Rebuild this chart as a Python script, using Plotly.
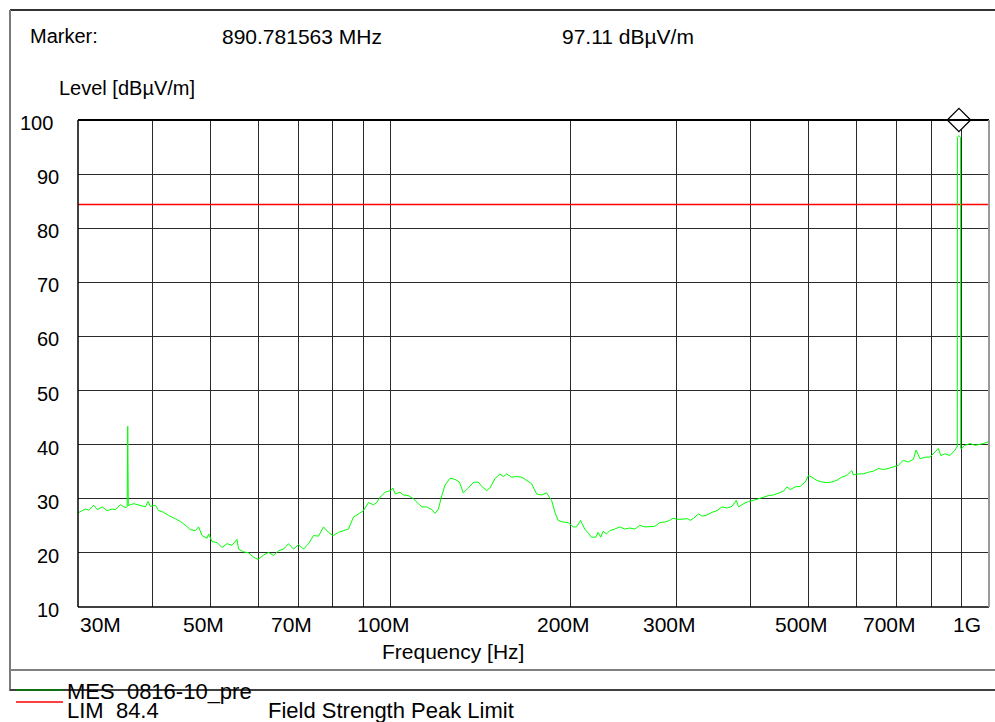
import math
import plotly.graph_objects as go

# ---------------- data ----------------
seg1_mhz = [30.0, 30.09, 30.49, 30.88, 31.27, 31.88, 32.30, 32.93, 33.56, 34.21,
            34.65, 35.32, 35.78, 36.15, 36.25, 36.33, 36.41, 36.47, 37.18, 37.67,
            38.40, 38.89, 39.29, 39.64, 40.41, 40.93, 41.72, 42.53, 43.64, 44.49,
            45.35, 46.23, 47.13, 47.73, 48.36, 49.30, 49.60, 50.25, 51.23, 52.22,
            53.24, 54.27, 55.32, 55.67, 56.75, 57.85, 58.97, 60.0, 61.28, 62.47,
            63.68, 64.92, 66.18, 67.46, 68.77, 70.1, 71.47, 72.85, 74.27, 75.71,
            77.18, 78.67, 80.1, 81.75, 83.34, 84.96, 86.61, 88.29, 90.0, 91.75,
            93.53, 94.76, 95.97, 97.83, 99.8]
seg1_level = [27.4, 27.5, 27.8, 28.1, 27.9, 28.8, 28.0, 28.5, 27.8, 28.1,
              28.0, 28.9, 28.5, 28.4, 28.6, 43.4, 28.7, 28.8, 29.1, 28.9,
              28.6, 28.5, 29.5, 28.6, 28.8, 27.8, 27.5, 26.9, 26.3, 25.8,
              25.1, 24.3, 24.1, 24.8, 23.2, 22.7, 23.5, 22.1, 21.9, 21.0,
              21.7, 21.4, 22.5, 20.7, 20.2, 20.0, 19.2, 18.8, 19.6, 20.1,
              19.5, 20.4, 20.7, 21.7, 20.7, 21.5, 20.7, 21.7, 23.2, 23.1,
              24.8, 23.8, 23.2, 23.8, 24.1, 24.4, 26.6, 27.2, 27.8, 29.3,
              28.9, 29.3, 30.3, 31.2, 31.5]

seg2_mhz = [100.8, 101.7, 103.6, 105.0, 107.0, 109.1, 111.2, 112.7, 114.8, 117.1,
            118.6, 120.1, 121.7, 123.2, 125.6, 128.0, 130.2, 132.2, 134.8, 137.4,
            140.0, 141.9, 144.6, 146.5, 149.3, 152.2, 154.2, 156.2, 159.2, 162.3,
            165.5, 168.7, 171.9, 175.3, 178.7, 182.1, 185.7, 188.1, 190.5, 194.2,
            197.9, 201.8, 204.4, 207.6, 211.0, 213.7, 216.5, 220.2, 222.1, 224.4,
            226.4, 229.4, 232.3, 236.8, 241.4, 246.1, 250.9, 255.8, 260.7, 265.8,
            270.9, 276.2, 281.6, 287.0, 292.6, 296.3, 302.1, 307.9, 313.9]
seg2_level = [32.0, 30.9, 31.2, 30.7, 30.6, 30.0, 29.1, 28.5, 28.5, 28.0,
              27.3, 28.1, 30.6, 32.5, 33.8, 33.6, 33.1, 31.1, 32.0, 33.0,
              33.1, 32.3, 31.5, 32.0, 33.7, 34.6, 34.1, 34.6, 34.0, 34.1,
              34.0, 33.4, 32.8, 30.9, 30.7, 31.1, 29.7, 27.5, 26.0, 25.7,
              25.6, 24.8, 24.8, 26.0, 24.4, 23.7, 22.9, 22.9, 23.8, 22.9,
              24.0, 23.5, 24.1, 24.4, 24.8, 24.4, 24.6, 24.4, 25.1, 24.8,
              24.9, 24.9, 25.6, 25.7, 26.0, 26.4, 26.2, 26.2, 26.3]

seg3_mhz = [316.8, 320.8, 327.0, 331.3, 337.8, 344.3, 351.0, 357.8, 364.8, 371.8,
            378.0, 381.4, 388.8, 396.3, 404.0, 411.9, 419.8, 428.0, 436.3, 444.8,
            453.4, 459.4, 465.2, 474.3, 483.5, 492.9, 499.1, 505.7, 515.5, 525.5,
            535.7, 546.1, 556.7, 567.5, 578.5, 589.8, 593.4, 604.9, 616.7, 628.6,
            640.8, 653.3, 666.0, 678.9, 692.0, 705.5, 719.2, 733.1, 747.4, 755.2,
            766.8, 781.7, 796.9, 807.1, 822.8, 830.4, 844.2, 860.6, 877.3, 883.0,
            885.1, 885.6, 890.781563, 896.2, 896.7, 900.2, 911.6, 929.4, 947.4, 959.5,
            978.1, 1000.0]
seg3_level = [26.0, 26.4, 27.2, 26.8, 27.0, 27.5, 27.8, 28.5, 28.3, 28.6,
              29.7, 28.5, 29.1, 29.5, 29.7, 30.0, 30.3, 30.6, 30.7, 31.1,
              31.4, 32.2, 31.7, 32.2, 32.3, 33.1, 34.3, 34.0, 33.4, 33.1,
              33.0, 33.1, 33.4, 34.0, 34.3, 35.2, 34.4, 34.6, 34.6, 34.9,
              35.1, 35.6, 35.4, 35.6, 35.9, 36.2, 37.1, 36.8, 37.3, 39.0,
              37.4, 37.7, 37.7, 38.3, 39.3, 38.0, 38.3, 38.0, 39.0, 39.6,
              39.6, 96.8, 97.11, 96.8, 39.3, 39.3, 39.9, 40.2, 39.9, 40.0,
              40.2, 40.6]

limit_mhz = [30.0, 1000.0]
limit_level = 84.4

marker_mhz = 890.781563
marker_level = 97.11

grid_mhz = [30, 40, 50, 60, 70, 80, 90, 100, 200, 300, 400, 500, 600, 700, 800, 900, 1000]
xtick_mhz = [30, 50, 70, 100, 200, 300, 500, 700, 1000]
xtick_text = ["30M", "50M", "70M", "100M", "200M", "300M", "500M", "700M", "1G"]
ytick_vals = [10, 20, 30, 40, 50, 60, 70, 80, 90, 100]

meas_name = "MES\u00a0\u00a00816-10_pre"
limit_name = "LIM\u00a0\u00a084.4"
limit_desc = "Field Strength Peak Limit"

# ---------------- layout helpers ----------------
W, H = 995, 722
ML, MR, MT, MB = 78, 6, 120, 115
PW = W - ML - MR
PH = H - MT - MB
FONT = "Liberation Sans, Arial, sans-serif"


def px(xp):
    return (xp - ML) / PW


def py(yp):
    return (H - MB - yp) / PH


meas_mhz = seg1_mhz + seg2_mhz + seg3_mhz
meas_level = seg1_level + seg2_level + seg3_level

fig = go.Figure()
fig.add_trace(go.Scatter(
    x=[f * 1e6 for f in limit_mhz], y=[limit_level] * len(limit_mhz),
    mode="lines", line=dict(color="#ff0000", width=1.5), hoverinfo="skip"))
fig.add_trace(go.Scatter(
    x=[f * 1e6 for f in meas_mhz], y=meas_level,
    mode="lines", line=dict(color="#00ff00", width=1), hoverinfo="skip"))
fig.add_trace(go.Scatter(
    x=[marker_mhz * 1e6], y=[100], mode="markers", cliponaxis=False,
    marker=dict(symbol="diamond", size=18, color="white",
                line=dict(color="black", width=1.3)),
    hoverinfo="skip"))

fig.update_layout(
    width=W, height=H, showlegend=False,
    margin=dict(l=ML, r=MR, t=MT, b=MB, pad=0),
    paper_bgcolor="white", plot_bgcolor="white",
    font=dict(family=FONT, size=20, color="black"),
    xaxis=dict(type="log", range=[math.log10(30e6), math.log10(1e9)],
               tickvals=[g * 1e6 for g in grid_mhz], showticklabels=False,
               ticks="", showgrid=True, gridcolor="#2a2a2a", gridwidth=1,
               zeroline=False, showline=False, fixedrange=True),
    yaxis=dict(range=[10, 100], tickvals=ytick_vals, showticklabels=False,
               ticks="", showgrid=True, gridcolor="#2a2a2a", gridwidth=1,
               zeroline=False, showline=False, fixedrange=True),
)

shapes = []
# plot frame
shapes.append(dict(type="line", xref="paper", yref="paper", x0=0, x1=1, y0=1, y1=1,
                   line=dict(color="black", width=2)))
shapes.append(dict(type="line", xref="paper", yref="paper", x0=0, x1=0, y0=0, y1=1,
                   line=dict(color="black", width=1.5)))
shapes.append(dict(type="line", xref="paper", yref="paper", x0=0, x1=1, y0=0, y1=0,
                   line=dict(color="black", width=1.5)))
shapes.append(dict(type="line", xref="paper", yref="paper", x0=1, x1=1, y0=0, y1=1,
                   line=dict(color="#9a9a9a", width=2)))
# outer frame
shapes.append(dict(type="line", xref="paper", yref="paper", x0=px(10), x1=px(996),
                   y0=py(10), y1=py(10), line=dict(color="#333333", width=2)))
shapes.append(dict(type="line", xref="paper", yref="paper", x0=px(10), x1=px(10),
                   y0=py(10), y1=py(691), line=dict(color="#7a7a7a", width=2)))
shapes.append(dict(type="line", xref="paper", yref="paper", x0=px(10), x1=px(996),
                   y0=py(670), y1=py(670), line=dict(color="#808080", width=2)))
shapes.append(dict(type="line", xref="paper", yref="paper", x0=px(10), x1=px(996),
                   y0=py(690), y1=py(690), line=dict(color="#404040", width=2)))
# legend samples
shapes.append(dict(type="line", xref="paper", yref="paper", x0=px(16), x1=px(63),
                   y0=py(690), y1=py(690), line=dict(color="#008000", width=1.5)))
shapes.append(dict(type="line", xref="paper", yref="paper", x0=px(16), x1=px(63),
                   y0=py(702), y1=py(702), line=dict(color="#ff0000", width=1.5)))
fig.update_layout(shapes=shapes)

ann = []


def text(xp, yp, s, anchor="left", size=21):
    ann.append(dict(xref="paper", yref="paper", x=px(xp), y=py(yp), text=s,
                    showarrow=False, xanchor=anchor, yanchor="middle",
                    font=dict(family=FONT, size=size, color="black")))


text(28, 36, "Marker:", size=20)
text(220, 36, f"{marker_mhz:.6f} MHz")
text(560, 36, f"{marker_level:.2f} dBµV/m")
text(57, 88, "Level [dBµV/m]", size=20)
text(453, 651, "Frequency [Hz]", "center")
text(65, 691, meas_name, size=22)
text(65, 710, limit_name, size=22)
text(266, 710, limit_desc, size=22)

# y tick labels
for v in ytick_vals:
    ann.append(dict(xref="paper", yref="y", x=px(55 if v == 100 else 61), y=v,
                    yshift=-3, text=str(v), showarrow=False, xanchor="right",
                    yanchor="middle", font=dict(family=FONT, size=20, color="black")))

# x tick labels
n = len(xtick_mhz)
for i, (v, t) in enumerate(zip(xtick_mhz, xtick_text)):
    if i == 0:
        anchor, shift = "left", 0
    elif i == n - 1:
        anchor, shift = "right", -6
    else:
        anchor, shift = "center", -7
    ann.append(dict(xref="x", yref="paper", x=math.log10(v * 1e6), y=py(624),
                    xshift=shift, text=t, showarrow=False, xanchor=anchor,
                    yanchor="middle", font=dict(family=FONT, size=21, color="black")))

fig.update_layout(annotations=ann)
fig.write_html(
    "out.html",
    config={"displayModeBar": False, "staticPlot": True},
    post_script="document.body.style.margin='0px';document.body.style.overflow='hidden';",
)
